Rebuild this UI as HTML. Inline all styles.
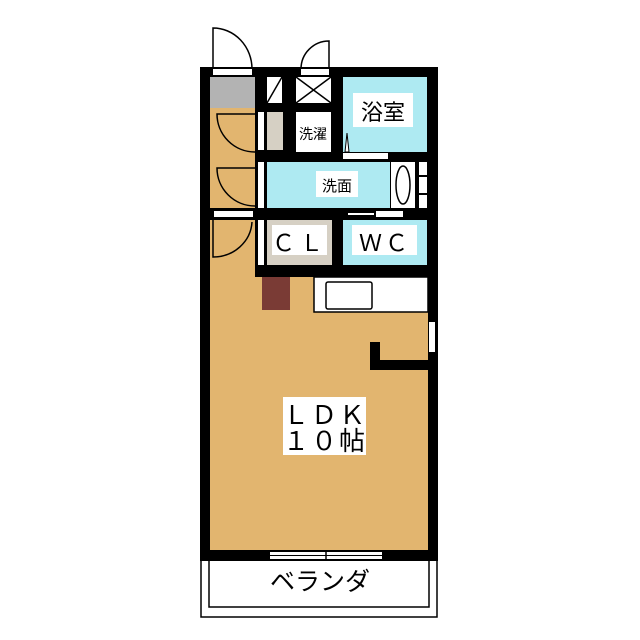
<!DOCTYPE html>
<html><head><meta charset="utf-8"><style>
html,body{margin:0;padding:0;background:#fff;}
svg{display:block;}
text{font-family:"Liberation Sans","Noto Sans CJK JP",sans-serif;fill:#000;}
</style></head><body>
<svg width="640" height="640" viewBox="0 0 640 640" xmlns="http://www.w3.org/2000/svg">
<rect x="201" y="560" width="236" height="57" fill="#fff" stroke="#000" stroke-width="1.5"/>
<rect x="209" y="560" width="220" height="47" fill="#fff" stroke="#000" stroke-width="1.5"/>
<text x="320" y="590" font-size="25" text-anchor="middle">ベランダ</text>
<rect x="200" y="67" width="238" height="494" fill="#000"/>
<rect x="210" y="108" width="218" height="442" fill="#e2b56f"/>
<rect x="210" y="77" width="55" height="31" fill="#b3b3b3"/>
<rect x="255" y="77" width="173" height="200" fill="#000"/>
<rect x="267" y="77" width="15" height="26" fill="#fff"/>
<line x1="267" y1="103" x2="282" y2="77" stroke="#000" stroke-width="1.5"/>
<rect x="296" y="77" width="35" height="26" fill="#fff"/>
<line x1="296" y1="77" x2="331" y2="103" stroke="#000" stroke-width="1.5"/>
<line x1="331" y1="77" x2="296" y2="103" stroke="#000" stroke-width="1.5"/>
<rect x="343" y="77" width="84" height="75" fill="#aeeaf2"/>
<rect x="343" y="153" width="45" height="6" fill="#fff"/>
<polygon points="345,152 347,133 349,152" fill="#fff" stroke="#000" stroke-width="1"/>
<rect x="353" y="93" width="60" height="34" fill="#fff"/>
<text x="383" y="120" font-size="22" text-anchor="middle">浴室</text>
<rect x="267" y="112" width="16" height="38" fill="#d6d0c4"/>
<rect x="258" y="112" width="6" height="38" fill="#fff"/>
<rect x="296" y="112" width="35" height="40" fill="#fff"/>
<text x="313" y="139" font-size="14" text-anchor="middle">洗濯</text>
<rect x="267" y="162" width="123" height="46" fill="#aeeaf2"/>
<rect x="258" y="162" width="6" height="46" fill="#fff"/>
<rect x="391" y="162" width="24" height="46" fill="#fff"/>
<ellipse cx="403" cy="185" rx="7" ry="19" fill="#fff" stroke="#000" stroke-width="1.5"/>
<rect x="419" y="162" width="8" height="46" fill="#fff"/>
<rect x="418" y="175" width="10" height="2" fill="#000"/>
<rect x="418" y="193" width="10" height="2" fill="#000"/>
<rect x="316" y="171" width="42" height="26" fill="#fff"/>
<text x="337" y="191" font-size="15" text-anchor="middle">洗面</text>
<rect x="376" y="211" width="27" height="6" fill="#fff"/>
<rect x="348" y="213" width="26" height="2" fill="#fff"/>
<rect x="267" y="220" width="65" height="45" fill="#d6d0c4"/>
<rect x="258" y="220" width="6" height="45" fill="#fff"/>
<rect x="272" y="225" width="55" height="30" fill="#fff"/>
<text x="300" y="251" font-size="23" text-anchor="middle" letter-spacing="5">ＣＬ</text>
<rect x="343" y="220" width="84" height="45" fill="#aeeaf2"/>
<rect x="352" y="225" width="65" height="30" fill="#fff"/>
<text x="385" y="251" font-size="23" text-anchor="middle" letter-spacing="3">ＷＣ</text>
<path d="M255,114 L217,114 A38,38 0 0 0 255,152" fill="none" stroke="#000" stroke-width="1.5"/>
<path d="M255,168 L217,168 A38,38 0 0 0 255,206" fill="none" stroke="#000" stroke-width="1.5"/>
<rect x="210" y="208" width="45" height="12" fill="#000"/>
<rect x="214" y="211" width="39" height="6" fill="#fff"/>
<path d="M213,220 L213,257 A39,37 0 0 0 252,222" fill="none" stroke="#000" stroke-width="1.5"/>
<rect x="213" y="69" width="39" height="6" fill="#fff"/>
<path d="M213,69 L213,28 A39,41 0 0 1 252,69" fill="none" stroke="#000" stroke-width="1.5"/>
<rect x="301" y="69" width="28" height="6" fill="#fff"/>
<path d="M329,69 L329,41 A28,28 0 0 0 301,69" fill="none" stroke="#000" stroke-width="1.5"/>
<rect x="262" y="277" width="28" height="33" fill="#7a3b35"/>
<rect x="314" y="277" width="114" height="35" fill="#fff" stroke="#000" stroke-width="1.5"/>
<rect x="326" y="282" width="46" height="27" fill="#fff" stroke="#000" stroke-width="1.5" rx="2"/>
<rect x="429" y="322" width="6" height="30" fill="#fff"/>
<rect x="370" y="342" width="10" height="28" fill="#000"/>
<rect x="370" y="360" width="58" height="10" fill="#000"/>
<rect x="283" y="397" width="83" height="58" fill="#fff"/>
<text x="325" y="424" font-size="26" text-anchor="middle" letter-spacing="2">ＬＤＫ</text>
<text x="325" y="450" font-size="26" text-anchor="middle" letter-spacing="2">１０帖</text>
<rect x="270" y="552" width="112" height="7" fill="#fff"/>
<line x1="270" y1="555.5" x2="382" y2="555.5" stroke="#000" stroke-width="1"/>
<line x1="326" y1="550" x2="326" y2="561" stroke="#000" stroke-width="1.5"/>
</svg>
</body></html>
